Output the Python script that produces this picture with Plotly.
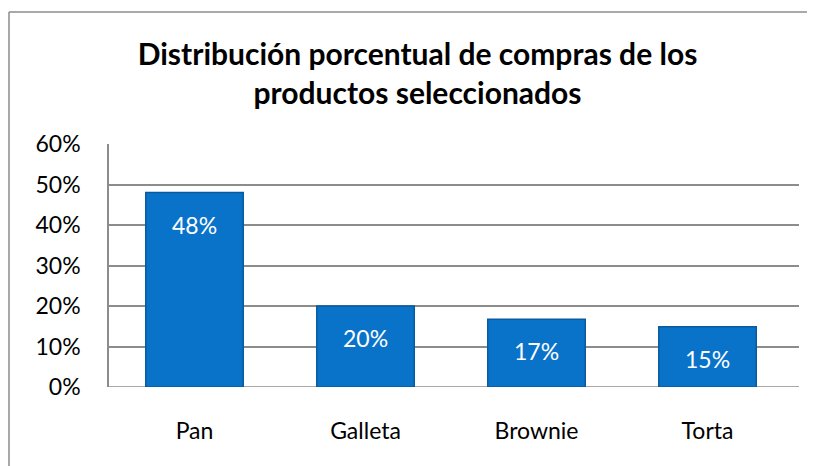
import plotly.graph_objects as go

# chart data
categories = ["Pan", "Galleta", "Brownie", "Torta"]
shares = [0.48, 0.20, 0.167, 0.149]
share_labels = ["48%", "20%", "17%", "15%"]
y_ticks = [0, 0.1, 0.2, 0.3, 0.4, 0.5, 0.6]
y_tick_labels = ["0%", "10%", "20%", "30%", "40%", "50%", "60%"]

FONT = "Lato"
GRID = "#8c8c8c"

# the page body adds an 8px margin, so the figure is sized to fit the window
W, H = 807, 458

fig = go.Figure(
    go.Bar(
        x=categories,
        y=shares,
        marker=dict(color="#0873c9", line=dict(color="#0a5a9e", width=1.5)),
        width=0.57,
        hoverinfo="x+y",
    )
)

# value labels just inside the top of each bar
for cat, val, lab in zip(categories, shares, share_labels):
    fig.add_annotation(
        x=cat, y=val, text=lab, showarrow=False,
        yanchor="middle", yshift=-32,
        font=dict(family=FONT, size=23, color="white"),
    )

fig.update_layout(
    width=W,
    height=H,
    margin=dict(l=101, r=16, t=136, b=79),
    paper_bgcolor="white",
    plot_bgcolor="white",
    showlegend=False,
    font=dict(family=FONT, size=23, color="#000000"),
    title=dict(
        text="<b>Distribución porcentual de compras de los<br>productos seleccionados</b>",
        x=0.5 + 6 / W,
        xanchor="center",
        xref="container",
        y=1 - 57 / H,
        yanchor="top",
        yref="container",
        font=dict(family=FONT, size=30, color="#000000"),
    ),
    xaxis=dict(
        range=[-0.5, 3.535],
        showgrid=False,
        showline=False,
        ticks="",
        ticklabelstandoff=28,
        tickfont=dict(family=FONT, size=23),
    ),
    yaxis=dict(
        range=[0, 0.6],
        tickvals=y_ticks,
        ticktext=y_tick_labels,
        showgrid=True,
        gridcolor=GRID,
        gridwidth=1.5,
        zeroline=False,
        showline=True,
        linecolor=GRID,
        linewidth=1.5,
        ticks="",
        ticklabelstandoff=22,
        tickfont=dict(family=FONT, size=23),
    ),
)

# bottom grid line
fig.add_shape(type="line", xref="paper", yref="y", x0=0, x1=1, y0=0, y1=0,
              line=dict(color=GRID, width=1.5), layer="below")
# outer chart frame: only the top and left edges fall inside the window
frame_left = -100 / 690
frame_top = 1 + 132 / 243
fig.add_shape(type="line", xref="paper", yref="paper",
              x0=frame_left, x1=1.3, y0=frame_top, y1=frame_top,
              line=dict(color=GRID, width=1.5), layer="below")
fig.add_shape(type="line", xref="paper", yref="paper",
              x0=frame_left, x1=frame_left, y0=-0.6, y1=frame_top,
              line=dict(color=GRID, width=1.5), layer="below")

fig.write_html("out.html")
